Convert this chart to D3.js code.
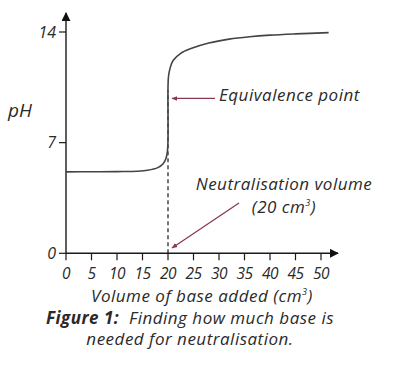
<!DOCTYPE html>
<html><head><meta charset="utf-8">
<script src="https://cdn.jsdelivr.net/npm/d3@7/dist/d3.min.js"></script>
<style>
body{margin:0;background:#fff;}
text{font-family:"Open Sans",Lato,sans-serif;font-style:italic;fill:#2a2a2a;}
.lbl{font-size:17px;letter-spacing:0.5px;}
</style></head>
<body><svg id="c" width="402" height="368"></svg>
<script>
const volume = [0, 5, 10, 14, 16, 18, 19, 19.6, 19.9, 20, 20, 20.1, 20.4, 21, 22.5, 24.5, 28, 32, 36, 40, 45, 51.5];
const pH     = [5.15, 5.16, 5.17, 5.19, 5.25, 5.42, 5.65, 6.0, 6.5, 7.2, 10.5, 11.2, 11.7, 12.2, 12.65, 12.95, 13.3, 13.55, 13.7, 13.8, 13.88, 13.96];
const xTicks = [0, 5, 10, 15, 20, 25, 30, 35, 40, 45, 50];
const yTicks = [0, 7, 14];
const neutralVolume = 20;

const svg = d3.select("#c");
const x = d3.scaleLinear().domain([0, 50]).range([66, 321]);
const y = d3.scaleLinear().domain([0, 14]).range([253.3, 32]);
const ink = "#1a1a1a";
const maroon = "#8a3a50";

svg.append("defs").html(`
<marker id="ah" viewBox="0 0 10 10" refX="9" refY="5" markerWidth="9" markerHeight="9" markerUnits="userSpaceOnUse" orient="auto"><path d="M0,0L10,5L0,10z" fill="#111"/></marker>
<marker id="am" viewBox="0 0 10 10" refX="9" refY="5" markerWidth="6" markerHeight="6" markerUnits="userSpaceOnUse" orient="auto"><path d="M0,1L10,5L0,9z" fill="${maroon}"/></marker>`);

svg.append("line").attr("x1", x(0)).attr("y1", y(0)).attr("x2", 338).attr("y2", y(0))
  .attr("stroke", ink).attr("stroke-width", 1.4).attr("marker-end", "url(#ah)");
svg.append("line").attr("x1", x(0)).attr("y1", y(0)).attr("x2", x(0)).attr("y2", 13)
  .attr("stroke", ink).attr("stroke-width", 1.4).attr("marker-end", "url(#ah)");

const xa = svg.append("g");
xTicks.forEach(t => {
  xa.append("line").attr("x1", x(t)).attr("x2", x(t)).attr("y1", y(0)).attr("y2", y(0) + 7)
    .attr("stroke", ink).attr("stroke-width", 1.2);
  xa.append("text").attr("x", x(t)).attr("y", 278.5).attr("text-anchor", "middle")
    .attr("font-size", 15.5).attr("letter-spacing", -0.5).text(t);
});
yTicks.forEach(t => {
  svg.append("line").attr("x1", x(0) - 7).attr("x2", x(0)).attr("y1", y(t)).attr("y2", y(t))
    .attr("stroke", ink).attr("stroke-width", 1.2);
  svg.append("text").attr("x", 56).attr("y", y(t) + 5.5).attr("text-anchor", "end")
    .attr("font-size", 16).text(t);
});

svg.append("line").attr("x1", x(neutralVolume)).attr("x2", x(neutralVolume))
  .attr("y1", y(0)).attr("y2", y(10.3))
  .attr("stroke", ink).attr("stroke-width", 1.2).attr("stroke-dasharray", "4,3");

const pts = volume.map((v, i) => [x(v), y(pH[i])]);
svg.append("path").attr("d", d3.line().curve(d3.curveCatmullRom.alpha(0.5))(pts))
  .attr("fill", "none").attr("stroke", "#444").attr("stroke-width", 1.6);

svg.append("line").attr("x1", 215).attr("y1", y(9.8)).attr("x2", x(neutralVolume) + 4).attr("y2", y(9.8))
  .attr("stroke", maroon).attr("stroke-width", 1.3).attr("marker-end", "url(#am)");
svg.append("text").attr("class", "lbl").attr("x", 219).attr("y", 101).text("Equivalence point");

svg.append("text").attr("class", "lbl").attr("x", 284).attr("y", 190).attr("text-anchor", "middle")
  .text("Neutralisation volume");
const t2 = svg.append("text").attr("class", "lbl").attr("x", 284).attr("y", 213).attr("text-anchor", "middle");
t2.append("tspan").text("(20 cm");
t2.append("tspan").attr("font-size", 9).attr("dy", -7).text("3");
t2.append("tspan").attr("dy", 7).text(")");
svg.append("line").attr("x1", 239).attr("y1", 203).attr("x2", x(neutralVolume) + 4).attr("y2", 248)
  .attr("stroke", maroon).attr("stroke-width", 1.3).attr("marker-end", "url(#am)");

svg.append("text").attr("x", 8).attr("y", 117).attr("font-size", 19).text("pH");
const xt = svg.append("text").attr("class", "lbl").attr("x", 202).attr("y", 302).attr("text-anchor", "middle");
xt.append("tspan").text("Volume of base added (cm");
xt.append("tspan").attr("font-size", 9).attr("dy", -7).text("3");
xt.append("tspan").attr("dy", 7).text(")");

const c1 = svg.append("text").attr("class", "lbl").attr("x", 190).attr("y", 324).attr("text-anchor", "middle");
c1.append("tspan").attr("font-weight", "bold").text("Figure 1:");
c1.append("tspan").text("\u00a0 Finding how much base is");
svg.append("text").attr("class", "lbl").attr("x", 190).attr("y", 345).attr("text-anchor", "middle")
  .text("needed for neutralisation.");
</script></body></html>
